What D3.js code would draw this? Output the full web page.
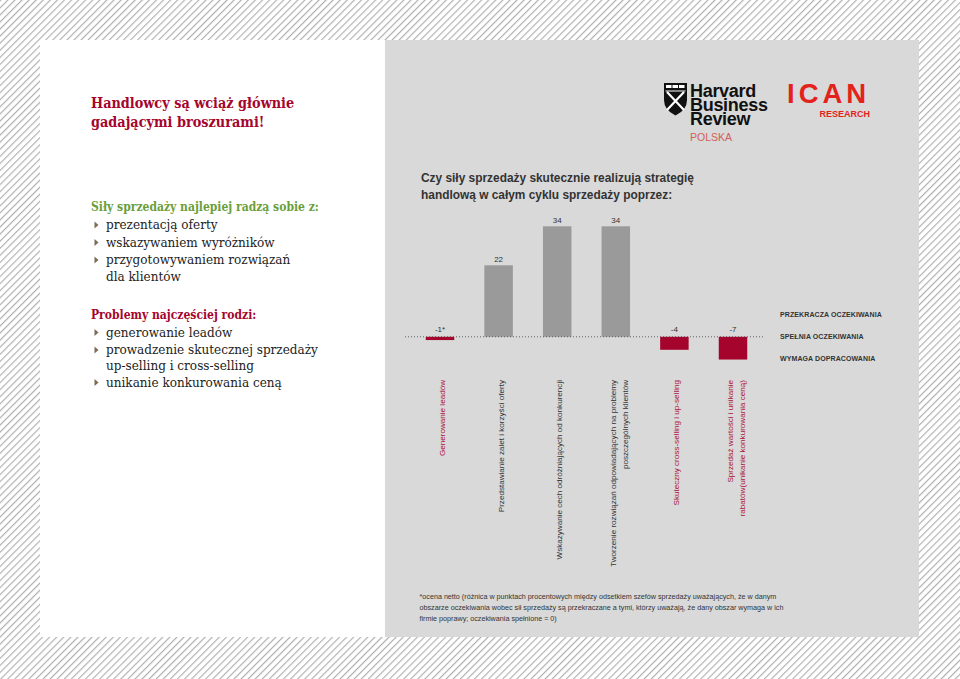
<!DOCTYPE html>
<html><head><meta charset="utf-8">
<script src="https://cdn.jsdelivr.net/npm/d3@7"></script>
<style>body{margin:0;overflow:hidden;background:#fff}</style>
</head><body>
<svg id="c" width="960" height="679"></svg>
<script>
// ---------- DATA ----------
const categories = [
  ["Generowanie leadów"],
  ["Przedstawianie zalet i korzyści oferty"],
  ["Wskazywanie cech odróżniających od konkurencji"],
  ["Tworzenie rozwiązań odpowiadających na problemy", "poszczególnych klientów"],
  ["Skuteczny  cross-selling i up-selling"],
  ["Sprzedaż wartości i unikanie", "rabatów(unikanie konkurowania ceną)"]
];
const values = [-1, 22, 34, 34, -4, -7];
const valueLabels = ["-1*", "22", "34", "34", "-4", "-7"];
const legendLabels = ["PRZEKRACZA OCZEKIWANIA", "SPEŁNIA OCZEKIWANIA", "WYMAGA DOPRACOWANIA"];
const chartTitle = ["Czy siły sprzedaży skutecznie realizują strategię", "handlową w całym cyklu sprzedaży poprzez:"];
const footnote = [
  "*ocena netto (różnica w punktach procentowych między odsetkiem szefów sprzedaży uważających, że w danym",
  "obszarze oczekiwania wobec sił sprzedaży są przekraczane a tymi, którzy uważają, że dany obszar wymaga w ich",
  "firmie poprawy; oczekiwania spełnione = 0)"
];
const mainTitle = ["Handlowcy są wciąż głównie", "gadającymi broszurami!"];
const strengthsHead = "Siły sprzedaży najlepiej radzą sobie z:";
const strengths = [["prezentacją oferty"], ["wskazywaniem wyróżników"], ["przygotowywaniem rozwiązań", "dla klientów"]];
const problemsHead = "Problemy najczęściej rodzi:";
const problems = [["generowanie leadów"], ["prowadzenie skutecznej sprzedaży", "up-selling i cross-selling"], ["unikanie konkurowania ceną"]];
const hbrWords = ["Harvard", "Business", "Review"];

// ---------- STYLE ----------
const RED = "#a5052d", GRAYBAR = "#9a9a9a", PANEL = "#d9d9d9", GREEN = "#6b9e3b";
const SANS = "'Liberation Sans', Arial, sans-serif";
const SERIF = "'DejaVu Serif', serif";

const svg = d3.select("#c");
const defs = svg.append("defs");
const pat = defs.append("pattern").attr("id", "hatch").attr("patternUnits", "userSpaceOnUse")
  .attr("width", 5).attr("height", 5).attr("patternTransform", "rotate(45)");
pat.append("rect").attr("width", 5).attr("height", 5).attr("fill", "#fff");
pat.append("line").attr("x1", 0.6).attr("y1", 0).attr("x2", 0.6).attr("y2", 5)
  .attr("stroke", "#ababab").attr("stroke-width", 1.1);

svg.append("rect").attr("width", 960).attr("height", 679).attr("fill", "url(#hatch)");
svg.append("rect").attr("x", 40).attr("y", 40).attr("width", 345).attr("height", 597).attr("fill", "#fff");
svg.append("rect").attr("x", 385).attr("y", 40).attr("width", 534).attr("height", 597).attr("fill", PANEL);

// ---------- LEFT PANEL ----------
const left = svg.append("g");
left.selectAll("text.mt").data(mainTitle).join("text")
  .attr("x", 91).attr("y", (d, i) => 108 + i * 18.5)
  .attr("font-family", SERIF).attr("font-stretch", "condensed").attr("font-weight", "bold").attr("font-size", 14.3)
  .attr("fill", RED).text(d => d);

function block(head, items, headY, color, ys) {
  left.append("text").attr("x", 91).attr("y", headY).attr("font-family", SERIF).attr("font-stretch", "condensed")
    .attr("font-weight", "bold").attr("font-size", 12).attr("fill", color).text(head);
  let k = 0;
  items.forEach(lines => {
    const by = ys[k];
    left.append("path").attr("d", `M94.5,${by - 7.5} L98.5,${by - 4} L94.5,${by - 0.5} Z`).attr("fill", "#7d6b55");
    lines.forEach(line => {
      left.append("text").attr("x", 106).attr("y", ys[k]).attr("font-family", SERIF).attr("font-stretch", "condensed")
        .attr("font-size", 13.4).attr("fill", "#222").text(line);
      k++;
    });
  });
}
block(strengthsHead, strengths, 211, GREEN, [229, 246.5, 264, 280.5]);
block(problemsHead, problems, 319, RED, [336.5, 354, 369.5, 386.5]);

// ---------- LOGOS ----------
const logo = svg.append("g");
logo.append("path").attr("d", "M664,83 H687 V100 Q687,110 675.5,115.5 Q664,110 664,100 Z").attr("fill", "#111");
[666, 672.5, 679].forEach(x => logo.append("rect").attr("x", x).attr("y", 85).attr("width", 5.5).attr("height", 3).attr("fill", "#fff"));
logo.append("path").attr("d", "M667,92 L684,110 M684,92 L667,110").attr("stroke", "#fff").attr("stroke-width", 2.2);
logo.append("path").attr("d", "M665.5,91 H685.5").attr("stroke", "#fff").attr("stroke-width", 1);
const hbr = logo.append("text").attr("font-family", SANS).attr("font-weight", "bold").attr("font-size", 18)
  .attr("letter-spacing", -0.3).attr("fill", "#111");
hbr.selectAll("tspan").data(hbrWords).join("tspan").attr("x", 690).attr("y", (d, i) => 96.5 + i * 14.3).text(d => d);
logo.append("text").attr("x", 690).attr("y", 141).attr("font-family", SANS).attr("font-size", 10.5)
  .attr("fill", "#d0605a").text("POLSKA");
logo.append("text").attr("x", 787).attr("y", 103).attr("font-family", SANS).attr("font-weight", "bold")
  .attr("font-size", 27.5).attr("letter-spacing", 4).attr("fill", "#e3231b").text("ICAN");
logo.append("text").attr("x", 870).attr("y", 116.5).attr("text-anchor", "end").attr("font-family", SANS)
  .attr("font-weight", "bold").attr("font-size", 9).attr("fill", "#e3231b").text("RESEARCH");

// ---------- CHART ----------
svg.selectAll("text.ct").data(chartTitle).join("text")
  .attr("x", 421).attr("y", (d, i) => 182 + i * 17)
  .attr("font-family", SANS).attr("font-weight", "bold").attr("font-size", 11.9).attr("fill", "#333").text(d => d);

const x = d3.scaleBand().domain(d3.range(values.length)).range([411, 762]).paddingInner(0.514).paddingOuter(0.252);
const y = d3.scaleLinear().domain([0, 34]).range([336.8, 226.3]);

const g = svg.append("g");
g.selectAll("rect.bar").data(values).join("rect")
  .attr("x", (d, i) => x(i)).attr("width", x.bandwidth())
  .attr("y", d => y(Math.max(0, d))).attr("height", d => Math.abs(y(d) - y(0)))
  .attr("fill", d => d < 0 ? RED : GRAYBAR);

g.append("line").attr("x1", 405).attr("x2", 763).attr("y1", y(0)).attr("y2", y(0))
  .attr("stroke", "#555").attr("stroke-width", 0.9).attr("stroke-dasharray", "1,2");

g.selectAll("text.val").data(values).join("text")
  .attr("x", (d, i) => x(i) + x.bandwidth() / 2)
  .attr("y", d => d < 0 ? y(0) - 5 : y(d) - 3)
  .attr("text-anchor", "middle").attr("font-family", SANS).attr("font-size", 8).attr("fill", "#333")
  .text((d, i) => valueLabels[i]);

categories.forEach((lines, i) => {
  const cx = x(i) + x.bandwidth() / 2;
  const neg = values[i] < 0;
  lines.forEach((line, j) => {
    const bx = lines.length === 1 ? cx + 5 : cx + 0.5 + j * 11.5;
    g.append("text").attr("transform", `translate(${bx},380) rotate(-90)`)
      .attr("text-anchor", "end").attr("font-family", SANS).attr("font-size", 8.1)
      .attr("fill", neg ? "#a8123c" : "#333").text(line);
  });
});

// legend
svg.selectAll("text.lg").data(legendLabels).join("text")
  .attr("x", 780).attr("y", (d, i) => 317 + i * 21.8)
  .attr("font-family", SANS).attr("font-weight", "bold").attr("font-size", 7).attr("letter-spacing", 0.1)
  .attr("fill", "#333").text(d => d);

// footnote
svg.selectAll("text.fn").data(footnote).join("text")
  .attr("x", 419.5).attr("y", (d, i) => 598.5 + i * 11)
  .attr("font-family", SANS).attr("font-size", 7.2).attr("fill", "#333").text(d => d);
</script>
</body></html>
